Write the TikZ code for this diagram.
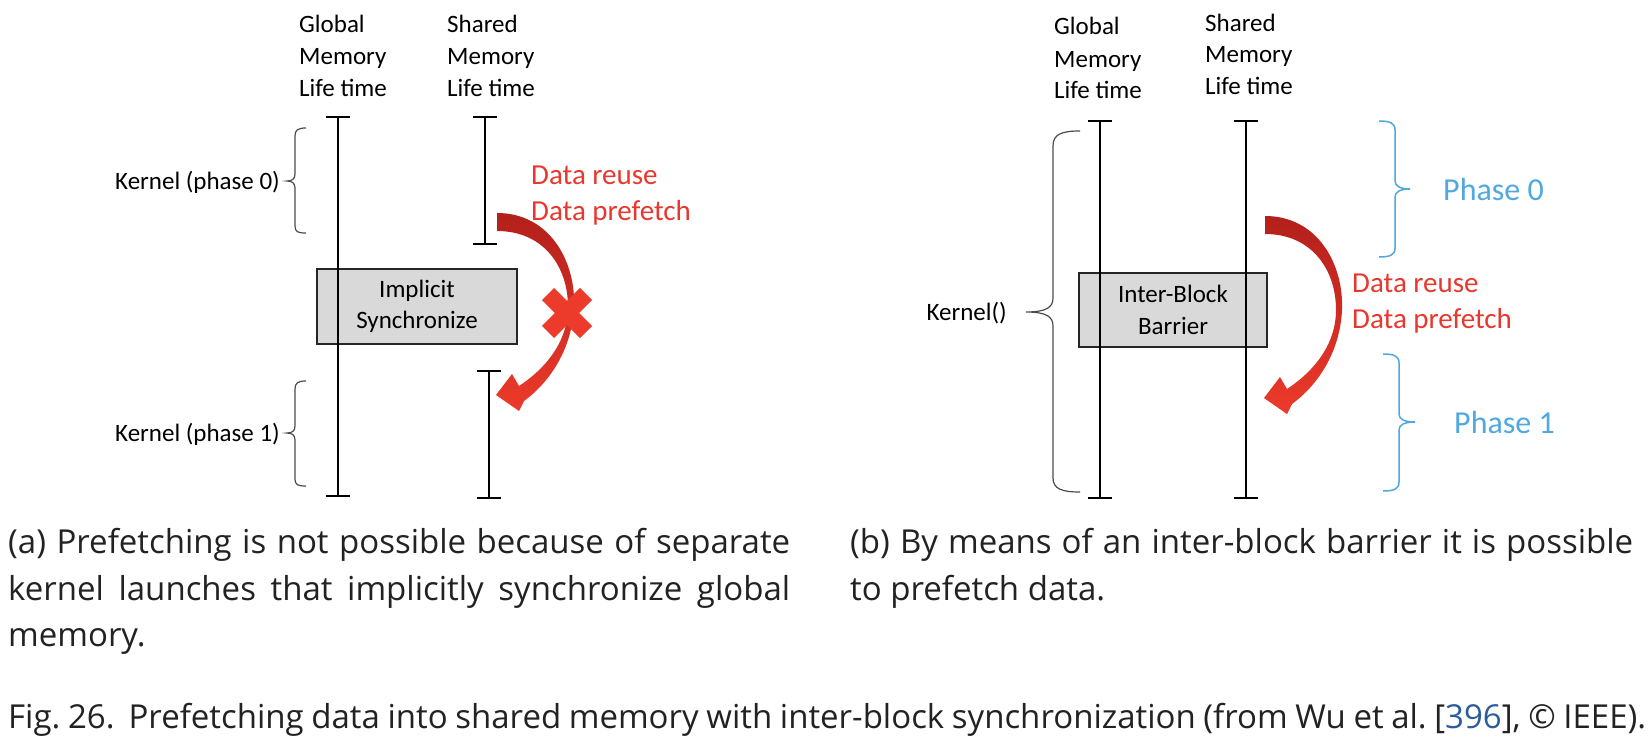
\documentclass[tikz,border=0pt]{standalone}
\usepackage{fontspec}
\newfontfamily\calibri{Carlito}
\newfontfamily\capfamily{Open Sans}
\definecolor{redtext}{HTML}{E8382E}
\definecolor{bluetext}{HTML}{4FA9E0}
\definecolor{citeblue}{HTML}{2B5C9B}
\definecolor{arrdark}{HTML}{B3201B}
\definecolor{arrlight}{HTML}{EC3A2B}
\definecolor{boxfill}{HTML}{D9D9D9}
\definecolor{captext}{HTML}{222222}
\newcommand\hdrfont{\calibri\fontsize{25}{31.5}\selectfont}
\newcommand\redtxtfont{\calibri\fontsize{29}{35}\selectfont}
\newcommand\phtxtfont{\calibri\fontsize{32}{38}\selectfont}
\newcommand\captxtfont{\capfamily\fontsize{33}{47}\selectfont\frenchspacing}
\newcommand\prefarrow{%
  \shade[top color=arrdark, bottom color=arrlight]
    (1265,216) .. controls (1318,216) and (1344,265) .. (1342,310)
    .. controls (1340,352) and (1318,385) .. (1292,404)
    -- (1287,414) -- (1264,398) -- (1280,377) -- (1287,389)
    .. controls (1313,372) and (1336,345) .. (1336,310)
    .. controls (1336,270) and (1312,234) .. (1265,234) -- cycle;}
\begin{document}
\begin{tikzpicture}[x=1pt,y=-1pt,
  hdr/.style={font=\hdrfont, inner sep=0pt, anchor=base west},
  redlab/.style={font=\redtxtfont, text=redtext, inner sep=0pt, anchor=base west},
  phlab/.style={font=\phtxtfont, text=bluetext, inner sep=0pt, anchor=base west},
  caplab/.style={font=\captxtfont, text=captext, inner sep=0pt, anchor=base west},
  syncbox/.style={draw=black!85, line width=2.5pt, fill=boxfill, align=center,
     font=\hdrfont, inner sep=0pt},
  lifeline/.style={line width=1.4pt, black},
  tickcap/.style={line width=2.5pt, black},
  kbrace/.style={draw=black!70, line width=1.2pt},
  pbrace/.style={draw=bluetext, line width=1.5pt},
  xmark/.style={draw=arrlight, line width=17pt}]
\useasboundingbox (0,0) rectangle (1652,752);
\fill[white] (0,0) rectangle (1652,752);

% ---------- panel (a) ----------
\node[syncbox, minimum width=200pt, minimum height=75pt] (sync) at (417,306.5) {Implicit\\Synchronize};

\coordinate (gat) at (338,117);
\coordinate (gab) at (338,496);
\coordinate (sat) at (485,117);
\coordinate (sab) at (485,244);
\coordinate (sct) at (489,371);
\coordinate (scb) at (489,498);
\draw[lifeline] (gat) -- (gab);
\draw[lifeline] (sat) -- (sab);
\draw[lifeline] (sct) -- (scb);
\foreach \c in {gat,gab,sat,sab,sct,scb}
  \draw[tickcap] ([xshift=-12pt]\c) -- ([xshift=12pt]\c);

\node[hdr] (lg1) at (299,33) {Global};
\node[hdr] (lg2) at (299,64) {Memory};
\node[hdr] (lg3) at (299,96) {Life time};
\node[hdr] (ls1) at (447,33) {Shared};
\node[hdr] (ls2) at (447,64) {Memory};
\node[hdr] (ls3) at (447,96) {Life time};

\node[hdr, anchor=base east] (k0) at (280,189) {Kernel (phase 0)};
\node[hdr, anchor=base east] (k1) at (280,441) {Kernel (phase 1)};

\draw[kbrace] (306,128) .. controls (298,128) and (295,130) .. (295,136) -- (295,174)
  .. controls (295,179) and (292,181) .. (287,181)
  .. controls (292,181) and (295,183) .. (295,188) -- (295,226)
  .. controls (295,232) and (298,233) .. (306,233);
\draw[kbrace] (306,381) .. controls (298,381) and (295,383) .. (295,389) -- (295,426)
  .. controls (295,431) and (292,433) .. (287,433)
  .. controls (292,433) and (295,435) .. (295,440) -- (295,479)
  .. controls (295,485) and (298,486) .. (306,486);

\node[redlab] (dra) at (531,184) {Data reuse};
\node[redlab] (dpa) at (531,220) {Data prefetch};

\begin{scope}[shift={(-768,-3)}]
  \prefarrow
\end{scope}
\coordinate (xc) at (567,313);
\draw[xmark] ([shift={(-19,-19)}]xc) -- ([shift={(19,19)}]xc);
\draw[xmark] ([shift={(-19,19)}]xc) -- ([shift={(19,-19)}]xc);

% ---------- panel (b) ----------
\node[syncbox, minimum width=188pt, minimum height=74pt] (barrier) at (1173,310) {Inter-Block\\Barrier};

\coordinate (gbt) at (1100,121);
\coordinate (gbb) at (1100,498);
\coordinate (sbt) at (1246,121);
\coordinate (sbb) at (1246,498);
\draw[lifeline] (gbt) -- (gbb);
\draw[lifeline] (sbt) -- (sbb);
\foreach \c in {gbt,gbb,sbt,sbb}
  \draw[tickcap] ([xshift=-12pt]\c) -- ([xshift=12pt]\c);

\node[hdr] (rg1) at (1054,35) {Global};
\node[hdr] (rg2) at (1054,67) {Memory};
\node[hdr] (rg3) at (1054,98) {Life time};
\node[hdr] (rs1) at (1205,32) {Shared};
\node[hdr] (rs2) at (1205,63) {Memory};
\node[hdr] (rs3) at (1205,95) {Life time};

\node[hdr, anchor=base east] (kr) at (1007,320) {Kernel()};
\draw[kbrace] (1080,131) .. controls (1062,131) and (1053,134) .. (1053,146) -- (1053,298)
  .. controls (1053,307) and (1047,312) .. (1026,312)
  .. controls (1047,312) and (1053,317) .. (1053,326) -- (1053,478)
  .. controls (1053,489) and (1062,492) .. (1080,492);

\draw[pbrace] (1379,121) .. controls (1390,121) and (1395,123) .. (1395,130) -- (1395,181)
  .. controls (1395,186) and (1400,189) .. (1410,189)
  .. controls (1400,189) and (1395,192) .. (1395,197) -- (1395,248)
  .. controls (1395,255) and (1390,257) .. (1379,257);
\draw[pbrace] (1383,354) .. controls (1394,354) and (1399,356) .. (1399,363) -- (1399,414)
  .. controls (1399,419) and (1404,422) .. (1415,422)
  .. controls (1404,422) and (1399,425) .. (1399,430) -- (1399,482)
  .. controls (1399,489) and (1394,491) .. (1383,491);

\node[phlab] (ph0) at (1443,200) {Phase 0};
\node[phlab] (ph1) at (1454,433) {Phase 1};

\node[redlab] (drb) at (1352,292) {Data reuse};
\node[redlab] (dpb) at (1352,328) {Data prefetch};

\prefarrow

% ---------- captions ----------
\node[caplab] (ca1) at (8,553) {\makebox[782pt][s]{(a) Prefetching is not possible because of separate}};
\node[caplab] (ca2) at (8,600) {\makebox[782pt][s]{kernel launches that implicitly synchronize global}};
\node[caplab] (ca3) at (8,646) {memory.};
\node[caplab] (cb1) at (850,553) {\makebox[783pt][s]{(b) By means of an inter-block barrier it is possible}};
\node[caplab] (cb2) at (850,600) {to prefetch data.};
\node[caplab] (fig) at (8,728) {\makebox[1638pt][s]{Fig.~26.\hspace{14pt}Prefetching data into shared memory with inter-block synchronization (from Wu et al. [\textcolor{citeblue}{396}], \textcopyright{} IEEE).}};
\end{tikzpicture}
\end{document}
